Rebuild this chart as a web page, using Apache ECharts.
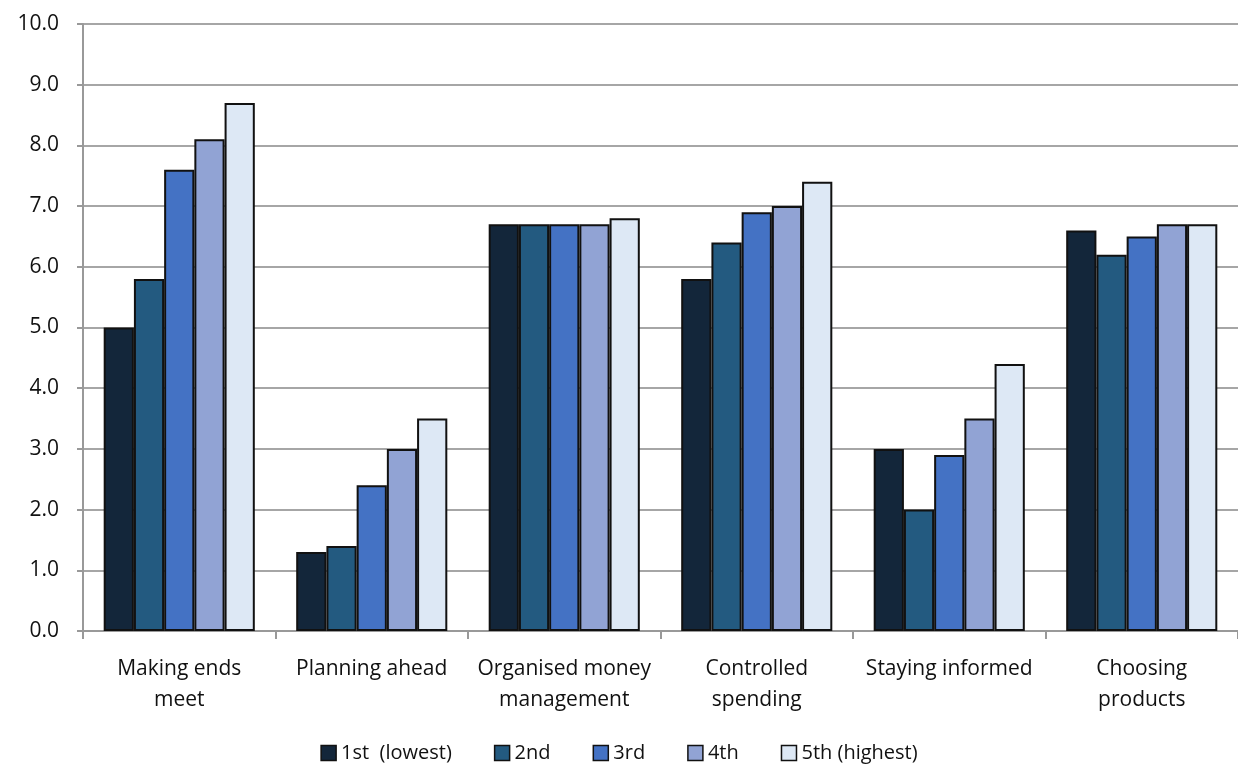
<!DOCTYPE html>
<html><head><meta charset="utf-8">
<script src="https://cdn.jsdelivr.net/npm/echarts@6/dist/echarts.min.js"></script>
<style>html,body{margin:0;padding:0;background:#fff}#c{width:1238px;height:768px}</style>
</head><body><div id="c"></div>
<script>
const categories = ['Making ends\nmeet','Planning ahead','Organised money\nmanagement','Controlled\nspending','Staying informed','Choosing\nproducts'];
const seriesNames = ['1st  (lowest)','2nd','3rd','4th','5th (highest)'];
const q1 = [5.0,1.3,6.7,5.8,3.0,6.6];
const q2 = [5.8,1.4,6.7,6.4,2.0,6.2];
const q3 = [7.6,2.4,6.7,6.9,2.9,6.5];
const q4 = [8.1,3.0,6.7,7.0,3.5,6.7];
const q5 = [8.7,3.5,6.8,7.4,4.4,6.7];
const yTicks = {min:0,max:10,interval:1};
const colors = ['#13263a','#235a80','#4472c4','#91a3d4','#dde8f5'];
const data = [q1,q2,q3,q4,q5];
const font = "'Open Sans', 'Liberation Sans', sans-serif";
const chart = echarts.init(document.getElementById('c'));
chart.setOption({
  animation:false,
  textStyle:{fontFamily:font},
  grid:{left:83,right:0,top:24,bottom:137,containLabel:false},
  legend:{bottom:0,left:'center',itemWidth:15,itemHeight:15,itemGap:42,
    textStyle:{fontSize:20,color:'#111',fontFamily:font},
    data:seriesNames.map((n,i)=>({name:n,icon:'rect',itemStyle:{color:colors[i],borderColor:'#111',borderWidth:1.5}}))},
  xAxis:{type:'category',data:categories,
    axisLine:{lineStyle:{color:'#999',width:2}},
    axisTick:{show:true,length:8,lineStyle:{color:'#999',width:2},alignWithLabel:false},
    axisLabel:{fontSize:21,color:'#111',margin:23,lineHeight:31,interval:0,fontFamily:font}},
  yAxis:{type:'value',min:yTicks.min,max:yTicks.max,interval:yTicks.interval,
    axisLine:{show:true,lineStyle:{color:'#999',width:2}},
    axisTick:{show:true,length:6,inside:false,lineStyle:{color:'#999',width:2}},
    splitLine:{lineStyle:{color:'#a6a6a6',width:2}},
    axisLabel:{fontSize:21,color:'#111',margin:24,formatter:v=>v.toFixed(1),fontFamily:font}},
  series:data.map((d,i)=>({name:seriesNames[i],type:'bar',data:d,barGap:'0%',barCategoryGap:'21.5%',
    itemStyle:{color:colors[i],borderColor:'#111',borderWidth:2}}))
});
</script></body></html>
